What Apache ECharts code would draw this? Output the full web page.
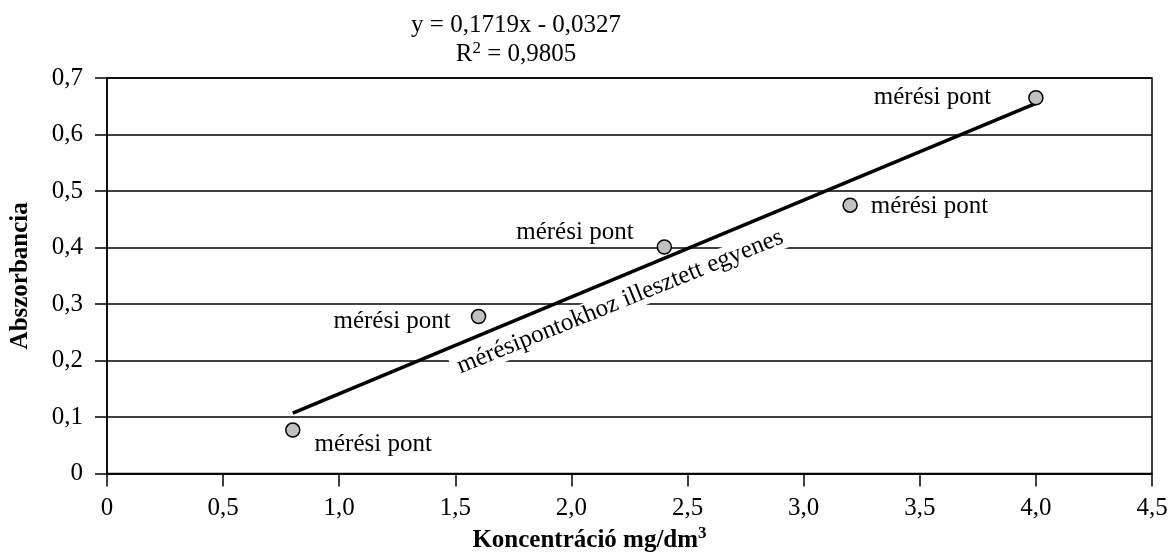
<!DOCTYPE html>
<html>
<head>
<meta charset="utf-8">
<script src="https://cdn.jsdelivr.net/npm/echarts@6/dist/echarts.min.js"></script>
<style>
  html, body { margin: 0; padding: 0; background: #fff; }
  #abs-chart { width: 1174px; height: 558px; }
</style>
</head>
<body>
<div id="abs-chart"></div>
<script>
    // mérési pontok (koncentráció, abszorbancia)
    let concentration = [0.8, 1.6, 2.4, 3.2, 4.0];
    let absorbance = [0.077, 0.278, 0.401, 0.475, 0.665];
    // illesztett egyenes két végpontja
    let trendX = [0.8, 4.0];
    let trendY = [0.107, 0.655];
    let pointLabel = 'mérési pont';
    let lineLabel = 'mérésipontokhoz illesztett egyenes';
    let lineLabelAt = [2.21, 0.304];
    let equation = 'y = 0,1719x - 0,0327';
    let rSquared = '0,9805';

    let fontFam = '"Liberation Serif", "Times New Roman", serif';

    // címke helyek pontonként
    let labelPlace = [
        {position: 'right', distance: 14, offset: [0, 14]},
        {position: 'left', distance: 20, offset: [0, 5]},
        {position: 'left', distance: 23, offset: [0, -15]},
        {position: 'right', distance: 13, offset: [0, 1]},
        {position: 'left', distance: 37, offset: [0, 0]}
    ];

    function fmt(v) {
        if (v === 0) return '0';
        return v.toFixed(1).replace('.', ',');
    }

    let points = concentration.map((x, i) => ({
        value: [x, absorbance[i]],
        label: Object.assign({show: true, formatter: pointLabel}, labelPlace[i])
    }));

    let chart = echarts.init(document.getElementById('abs-chart'));
    chart.setOption({
        animation: false,
        textStyle: {fontFamily: fontFam},
        grid: {left: 106, right: 22, top: 78, bottom: 82, containLabel: false,
            show: true, borderColor: '#000', borderWidth: 1.5},
        graphic: [{
            type: 'text',
            x: 516, y: 11,
            style: {
                text: '{a|' + equation + '}\n{a|R}{s|2}{a| = ' + rSquared + '}',
                align: 'center',
                verticalAlign: 'top',
                rich: {
                    a: {fontFamily: fontFam, fontSize: 25, lineHeight: 29, fill: '#000'},
                    s: {fontFamily: fontFam, fontSize: 17, lineHeight: 29, verticalAlign: 'top', fill: '#000'}
                }
            }
        }],
        xAxis: {
            type: 'value',
            min: 0, max: 4.5, interval: 0.5,
            name: '{a|Koncentráció mg/dm}{s|3}',
            nameLocation: 'middle',
            nameGap: 48,
            nameTextStyle: {
                padding: [0, 80, 0, 0],
                rich: {
                    a: {fontFamily: fontFam, fontSize: 25, fontWeight: 'bold', color: '#000', lineHeight: 30},
                    s: {fontFamily: fontFam, fontSize: 17, fontWeight: 'bold', color: '#000', verticalAlign: 'top', lineHeight: 30}
                }
            },
            axisLine: {lineStyle: {color: '#000', width: 1.5}},
            axisTick: {show: true, length: 13, lineStyle: {color: '#000', width: 1.5}},
            axisLabel: {fontSize: 25, color: '#000', margin: 22, formatter: fmt},
            splitLine: {show: false}
        },
        yAxis: {
            type: 'value',
            min: 0, max: 0.7, interval: 0.1,
            name: 'Abszorbancia',
            nameLocation: 'middle',
            nameGap: 74,
            nameTextStyle: {fontSize: 25, fontWeight: 'bold', color: '#000', fontFamily: fontFam},
            axisLine: {show: true, lineStyle: {color: '#000', width: 1.5}},
            axisTick: {show: true, length: 12, lineStyle: {color: '#000', width: 1.5}},
            axisLabel: {fontSize: 25, color: '#000', margin: 24, formatter: fmt},
            splitLine: {show: true, lineStyle: {color: '#000', width: 1.5}}
        },
        series: [
            {
                name: 'egyenes',
                type: 'line',
                data: trendX.map((x, i) => [x, trendY[i]]),
                symbol: 'none',
                lineStyle: {color: '#000', width: 3.5},
                z: 2
            },
            {
                name: 'felirat',
                type: 'scatter',
                data: [lineLabelAt],
                symbolSize: 0,
                z: 1,
                itemStyle: {opacity: 1},
                label: {
                    show: true,
                    position: 'inside',
                    formatter: lineLabel,
                    rotate: 22,
                    fontSize: 25,
                    color: '#000',
                    textBorderWidth: 0,
                    textBorderColor: 'transparent',
                    backgroundColor: '#fff',
                    padding: [0, 6]
                }
            },
            {
                name: 'mérési pont',
                type: 'scatter',
                data: points,
                symbol: 'circle',
                symbolSize: 14,
                itemStyle: {color: '#c0c0c0', borderColor: '#000', borderWidth: 1.5, opacity: 1},
                label: {fontSize: 25, color: '#000'},
                z: 3
            }
        ]
    });
</script>
</body>
</html>
